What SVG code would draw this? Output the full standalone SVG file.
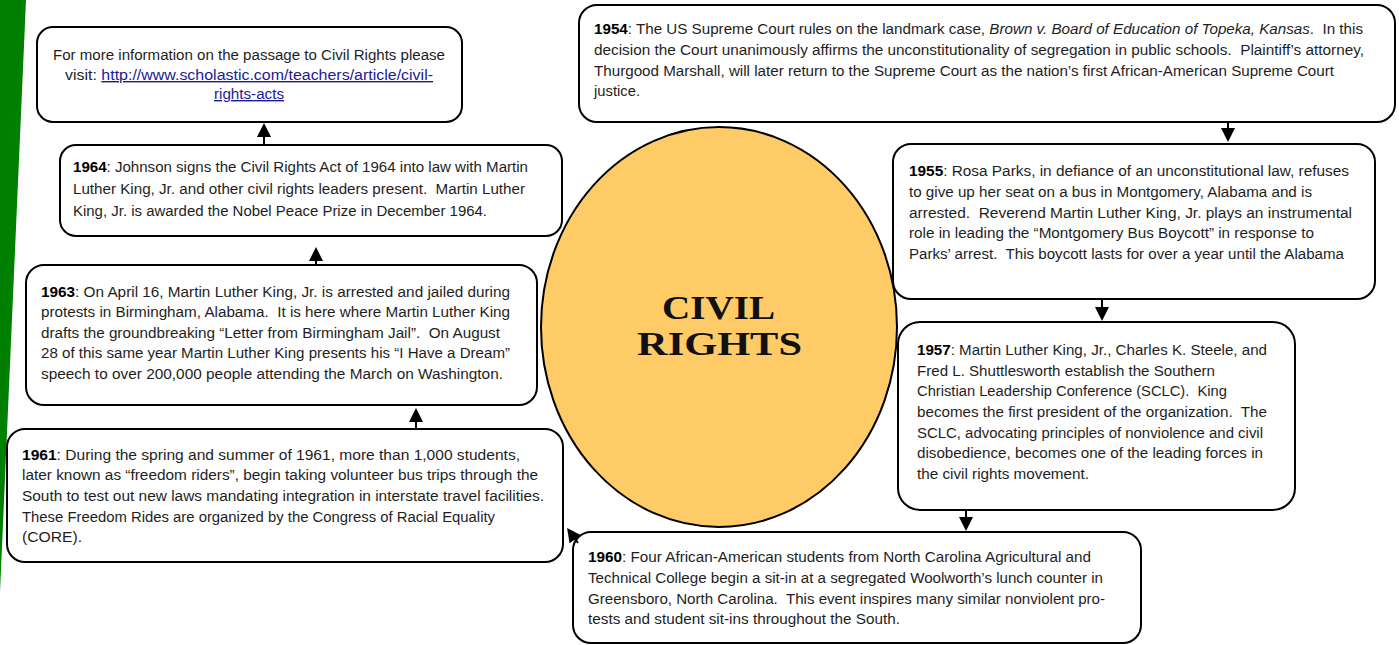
<svg xmlns="http://www.w3.org/2000/svg" width="1399" height="645" viewBox="0 0 1399 645">
<style>
.box{fill:#fff;stroke:#000;stroke-width:2}
.t{font-family:"Liberation Sans",Arial,sans-serif;font-size:14px;fill:#1e1e1e;white-space:pre}
.y{font-weight:bold;fill:#000}
.lnk{fill:#1a1a9a;text-decoration:underline}
.title{font-family:"Liberation Serif","Times New Roman",serif;font-weight:bold;font-size:33px;fill:#111}
.con{stroke:#000;stroke-width:2;fill:none;marker-end:url(#ah)}
</style>
<defs>
<marker id="ah" markerUnits="userSpaceOnUse" markerWidth="14" markerHeight="14" viewBox="0 0 14 14" refX="9" refY="7" orient="auto">
<path d="M0,0 L14,7 L0,14 z" fill="#000"/>
</marker>
</defs>
<rect width="1399" height="645" fill="#fff"/>
<polygon points="0,0 26,0 0,592" fill="#008000"/>

<g id="center">
<ellipse cx="719" cy="327" rx="178" ry="200" fill="#FECB67" stroke="#000" stroke-width="2"/>
<text class="title" x="662" y="319" textLength="113" lengthAdjust="spacingAndGlyphs">CIVIL</text>
<text class="title" x="637" y="355" textLength="165" lengthAdjust="spacingAndGlyphs">RIGHTS</text>
</g>

<g id="info">
<rect class="box" x="37" y="27" width="425" height="95" rx="16"/>
<text class="t" x="53" y="60" textLength="392" lengthAdjust="spacingAndGlyphs">For more information on the passage to Civil Rights please</text>
<text class="t" x="65" y="80" textLength="368" lengthAdjust="spacingAndGlyphs">visit: <tspan class="lnk">http://www.scholastic.com/teachers/article/civil-</tspan></text>
<text class="t lnk" x="214" y="99" textLength="70" lengthAdjust="spacingAndGlyphs">rights-acts</text>
</g>

<g id="n1964">
<rect class="box" x="60" y="145" width="502" height="91" rx="16"/>
<text class="t" x="73" y="172" textLength="455" lengthAdjust="spacingAndGlyphs"><tspan class="y">1964</tspan>: Johnson signs the Civil Rights Act of 1964 into law with Martin</text>
<text class="t" x="73" y="194" textLength="452" lengthAdjust="spacingAndGlyphs">Luther King, Jr. and other civil rights leaders present.  Martin Luther</text>
<text class="t" x="73" y="216" textLength="414" lengthAdjust="spacingAndGlyphs">King, Jr. is awarded the Nobel Peace Prize in December 1964.</text>
</g>

<g id="n1963">
<rect class="box" x="26" y="265" width="511" height="140" rx="18"/>
<text class="t" x="41" y="297" textLength="469" lengthAdjust="spacingAndGlyphs"><tspan class="y">1963</tspan>: On April 16, Martin Luther King, Jr. is arrested and jailed during</text>
<text class="t" x="41" y="317" textLength="469" lengthAdjust="spacingAndGlyphs">protests in Birmingham, Alabama.  It is here where Martin Luther King</text>
<text class="t" x="41" y="338" textLength="459" lengthAdjust="spacingAndGlyphs">drafts the groundbreaking “Letter from Birmingham Jail”.  On August</text>
<text class="t" x="41" y="358" textLength="469" lengthAdjust="spacingAndGlyphs">28 of this same year Martin Luther King presents his “I Have a Dream”</text>
<text class="t" x="41" y="379" textLength="462" lengthAdjust="spacingAndGlyphs">speech to over 200,000 people attending the March on Washington.</text>
</g>

<g id="n1961">
<rect class="box" x="7" y="429" width="556" height="133" rx="18"/>
<text class="t" x="22" y="460" textLength="498" lengthAdjust="spacingAndGlyphs"><tspan class="y">1961</tspan>: During the spring and summer of 1961, more than 1,000 students,</text>
<text class="t" x="22" y="480" textLength="516" lengthAdjust="spacingAndGlyphs">later known as “freedom riders”, begin taking volunteer bus trips through the</text>
<text class="t" x="22" y="501" textLength="522" lengthAdjust="spacingAndGlyphs">South to test out new laws mandating integration in interstate travel facilities.</text>
<text class="t" x="22" y="522" textLength="473" lengthAdjust="spacingAndGlyphs">These Freedom Rides are organized by the Congress of Racial Equality</text>
<text class="t" x="22" y="542" textLength="60" lengthAdjust="spacingAndGlyphs">(CORE).</text>
</g>

<g id="n1954">
<rect class="box" x="579" y="5" width="816" height="117" rx="18"/>
<text class="t" x="594" y="34" textLength="769" lengthAdjust="spacingAndGlyphs"><tspan class="y">1954</tspan>: The US Supreme Court rules on the landmark case, <tspan font-style="italic">Brown v. Board of Education of Topeka, Kansas</tspan>.  In this</text>
<text class="t" x="594" y="55" textLength="770" lengthAdjust="spacingAndGlyphs">decision the Court unanimously affirms the unconstitutionality of segregation in public schools.  Plaintiff’s attorney,</text>
<text class="t" x="594" y="76" textLength="740" lengthAdjust="spacingAndGlyphs">Thurgood Marshall, will later return to the Supreme Court as the nation’s first African-American Supreme Court</text>
<text class="t" x="594" y="96" textLength="46" lengthAdjust="spacingAndGlyphs">justice.</text>
</g>

<g id="n1955">
<rect class="box" x="893" y="144" width="482" height="155" rx="18"/>
<text class="t" x="909" y="176" textLength="440" lengthAdjust="spacingAndGlyphs"><tspan class="y">1955</tspan>: Rosa Parks, in defiance of an unconstitutional law, refuses</text>
<text class="t" x="909" y="197" textLength="403" lengthAdjust="spacingAndGlyphs">to give up her seat on a bus in Montgomery, Alabama and is</text>
<text class="t" x="909" y="218" textLength="443" lengthAdjust="spacingAndGlyphs">arrested.  Reverend Martin Luther King, Jr. plays an instrumental</text>
<text class="t" x="909" y="238" textLength="405" lengthAdjust="spacingAndGlyphs">role in leading the “Montgomery Bus Boycott” in response to</text>
<text class="t" x="909" y="259" textLength="435" lengthAdjust="spacingAndGlyphs">Parks’ arrest.  This boycott lasts for over a year until the Alabama</text>
</g>

<g id="n1957">
<rect class="box" x="898" y="322" width="397" height="188" rx="22"/>
<text class="t" x="917" y="355" textLength="350" lengthAdjust="spacingAndGlyphs"><tspan class="y">1957</tspan>: Martin Luther King, Jr., Charles K. Steele, and</text>
<text class="t" x="917" y="376" textLength="298" lengthAdjust="spacingAndGlyphs">Fred L. Shuttlesworth establish the Southern</text>
<text class="t" x="917" y="396" textLength="310" lengthAdjust="spacingAndGlyphs">Christian Leadership Conference (SCLC).  King</text>
<text class="t" x="917" y="417" textLength="350" lengthAdjust="spacingAndGlyphs">becomes the first president of the organization.  The</text>
<text class="t" x="917" y="438" textLength="346" lengthAdjust="spacingAndGlyphs">SCLC, advocating principles of nonviolence and civil</text>
<text class="t" x="917" y="458" textLength="346" lengthAdjust="spacingAndGlyphs">disobedience, becomes one of the leading forces in</text>
<text class="t" x="917" y="479" textLength="172" lengthAdjust="spacingAndGlyphs">the civil rights movement.</text>
</g>

<g id="n1960">
<rect class="box" x="573" y="532" width="568" height="111" rx="18"/>
<text class="t" x="588" y="562" textLength="503" lengthAdjust="spacingAndGlyphs"><tspan class="y">1960</tspan>: Four African-American students from North Carolina Agricultural and</text>
<text class="t" x="588" y="583" textLength="515" lengthAdjust="spacingAndGlyphs">Technical College begin a sit-in at a segregated Woolworth’s lunch counter in</text>
<text class="t" x="588" y="604" textLength="517" lengthAdjust="spacingAndGlyphs">Greensboro, North Carolina.  This event inspires many similar nonviolent pro-</text>
<text class="t" x="588" y="624" textLength="312" lengthAdjust="spacingAndGlyphs">tests and student sit-ins throughout the South.</text>
</g>

<g id="connectors">
<line class="con" x1="1228" y1="122" x2="1228" y2="137"/>
<line class="con" x1="1102" y1="299" x2="1102" y2="316"/>
<line class="con" x1="966" y1="510" x2="966" y2="526"/>
<line class="con" x1="578" y1="543" x2="570" y2="532"/>
<line class="con" x1="416" y1="429" x2="416" y2="413"/>
<line class="con" x1="316" y1="265" x2="316" y2="252"/>
<line class="con" x1="264" y1="145" x2="264" y2="128"/>
</g>
</svg>
